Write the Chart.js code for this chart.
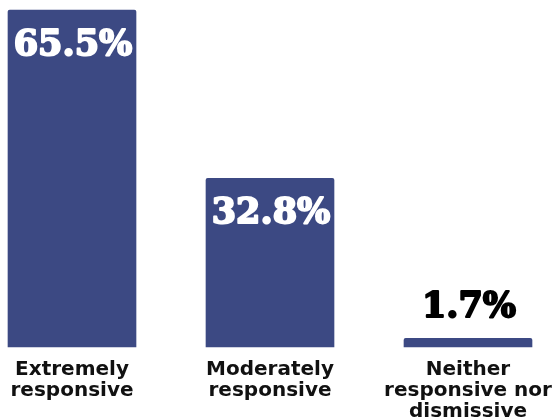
<!DOCTYPE html>
<html>
<head>
<meta charset="utf-8">
<script src="https://cdn.jsdelivr.net/npm/chart.js@4.4.0/dist/chart.umd.min.js"></script>
<style>
  html, body { margin: 0; padding: 0; background: #ffffff; }
  #wrap { width: 558px; height: 417px; position: relative; }
</style>
</head>
<body>
<div id="wrap"><canvas id="barchart"></canvas></div>
<script>
// data
const categories = [
    ['Extremely', 'responsive'],
    ['Moderately', 'responsive'],
    ['Neither', 'responsive nor', 'dismissive']
];
const shares = [65.5, 32.8, 1.7];
const valueLabels = ['65.5%', '32.8%', '1.7%'];

// value labels: white inside the big bars, black above the small one
const valueLabelPlugin = {
    id: 'valueLabels',
    afterDatasetsDraw(chart) {
        const ctx = chart.ctx;
        const meta = chart.getDatasetMeta(0);
        ctx.save();
        ctx.font = 'bold 35px "DejaVu Serif"';
        ctx.textAlign = 'center';
        ctx.textBaseline = 'middle';
        ctx.lineJoin = 'round';
        ctx.lineWidth = 2;
        meta.data.forEach((bar, i) => {
            const inside = (bar.base - bar.y) > 60;
            ctx.fillStyle = inside ? '#ffffff' : '#000000';
            ctx.strokeStyle = ctx.fillStyle;
            const y = inside ? bar.y + 36 : bar.y - 30;
            ctx.strokeText(valueLabels[i], bar.x + 1, y);
            ctx.fillText(valueLabels[i], bar.x + 1, y);
        });
        ctx.restore();
    }
};

const ctx1 = document.getElementById('barchart').getContext('2d');
const barchart = new Chart(ctx1, {
    type: 'bar',
    data: {
        labels: categories,
        datasets: [{
            data: shares,
            backgroundColor: '#3c4983',
            borderRadius: 2,
            borderSkipped: 'bottom',
            barThickness: 128,
            clip: false
        }]
    },
    options: {
        responsive: true,
        maintainAspectRatio: false,
        animation: false,
        layout: {
            padding: { top: 10, left: 72, right: 90, bottom: 0 }
        },
        scales: {
            x: {
                offset: false,
                grid: { display: false, drawTicks: false },
                border: { display: false },
                ticks: {
                    autoSkip: false,
                    maxRotation: 0,
                    minRotation: 0,
                    padding: 12,
                    color: '#111111',
                    font: { family: 'DejaVu Sans', weight: 'bold', size: 20, lineHeight: 1.05 }
                },
                afterFit: function (scale) {
                    scale.height = 70;
                    scale.paddingLeft = 0;
                    scale.paddingRight = 0;
                }
            },
            y: {
                display: false,
                min: 0,
                max: 65.5
            }
        },
        plugins: {
            legend: { display: false },
            tooltip: { enabled: false }
        }
    },
    plugins: [valueLabelPlugin]
});
</script>
</body>
</html>
